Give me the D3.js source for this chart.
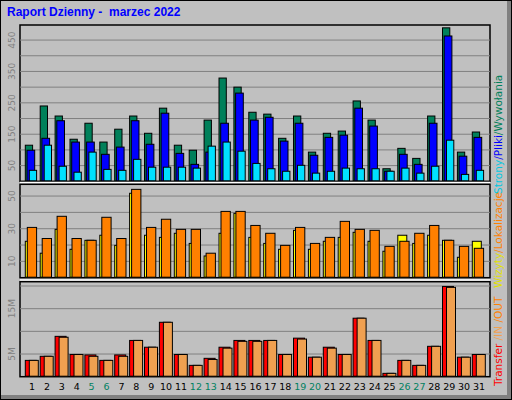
<!DOCTYPE html>
<html><head><meta charset="utf-8">
<script src="https://cdn.jsdelivr.net/npm/d3@7"></script>
<style>body{margin:0;background:#fff}svg{display:block}</style>
</head><body><svg id="c" width="512" height="400"></svg>
<script>
const days = d3.range(1, 32).map(String);
const weekend = ["5","6","12","13","19","20","26","27"];
const hits  = [115,240,208,134,185,125,166,208,153,233,115,99,195,329,300,220,214,137,208,93,153,160,256,195,40,105,73,208,489,93,157];
const files = [99,137,193,125,125,86,109,193,118,217,89,54,93,185,281,195,204,128,185,83,140,147,233,176,32,86,54,185,463,80,140];
const pages = [35,115,48,29,93,38,35,70,45,45,45,42,112,125,96,57,40,32,51,26,32,42,40,40,32,42,26,48,131,22,35];
const visits = [22.3,15,29.6,17.4,22.9,26,19.8,51.7,26,24.7,27.2,21,13.3,27.2,39.4,24.7,21,17.4,29,17.4,22.3,24.7,27.8,22.3,16.2,26,21,26,22.9,12.5,22.3];
const sites  = [30.8,24,37.6,24,22.9,37,24,54.1,30.8,35.8,29.6,29.6,15,40.6,40.6,32,27.2,19.8,30.8,21,24.7,34.5,29.6,29,19.2,22.3,27.2,32,22.9,19.2,18];
const kbTotal = [3.6,4.5,8.9,4.9,4.8,3.6,4.8,8.0,6.5,12.0,4.9,2.5,4.05,6.5,8.0,8.0,8.0,4.9,8.5,4.3,6.5,4.9,12.9,8.0,0.74,3.6,2.5,6.7,19.9,4.3,4.9];
const kbIn    = [3.6,4.5,8.7,4.9,4.5,3.6,4.5,8.0,6.5,12.0,4.9,2.5,3.8,6.3,7.8,7.8,8.0,4.9,8.3,4.3,6.3,4.9,12.9,8.0,0.74,3.6,2.5,6.7,19.7,4.3,4.9];
const topTicks = [50,150,250,350,450], topGrid = d3.range(50,500,50);
const midTicks = [10,30,50], midGrid = [10,20,30,40,50];
const botTicks = [5,15], botGrid = [5,10,15,20];

const svg = d3.select("#c");
svg.append("rect").attr("width",512).attr("height",400).attr("fill","#c0c0c0");
svg.append("rect").attr("x",0.5).attr("y",0.5).attr("width",511).attr("height",399).attr("fill","none").attr("stroke","#000");
svg.append("rect").attr("x",1).attr("y",395).attr("width",510).attr("height",4).attr("fill","#808080");
svg.append("rect").attr("x",507).attr("y",1).attr("width",4).attr("height",398).attr("fill","#808080");
svg.append("text").attr("x",7).attr("y",16).attr("fill","#0000ff").attr("font-family","Liberation Sans, Arial, sans-serif")
  .attr("font-weight","bold").attr("font-size",12).style("white-space","pre").text("Raport Dzienny -  marzec 2022");

const x = d3.scaleBand().domain(days).range([25.3, 25.3+31*14.9]).paddingInner(0).paddingOuter(0);
const L=20, R=490;
function panel(y0,y1,max,ticks,grid,fmt){
  const y = d3.scaleLinear().domain([0,max]).range([y1,y0]);
  svg.append("rect").attr("x",L).attr("y",y0).attr("width",R-L).attr("height",y1-y0).attr("fill","#c0c0c0")
    .attr("stroke","#000").attr("stroke-width",1.5);
  svg.append("g").selectAll("line").data(grid).join("line").attr("x1",L).attr("x2",R)
    .attr("y1",d=>y(d)).attr("y2",d=>y(d)).attr("stroke","#808080").attr("stroke-width",1);
  svg.append("g").selectAll("text").data(ticks).join("text")
    .attr("transform",d=>`translate(15,${y(d)}) rotate(-90)`).attr("text-anchor","middle")
    .attr("fill","#808080").attr("font-family","DejaVu Sans, sans-serif").attr("font-size",9).text(fmt);
  return y;
}
function bars(y,data,off,w,color){
  svg.append("g").selectAll("rect").data(data).join("rect")
    .attr("x",(d,i)=>x(days[i])+off).attr("width",w)
    .attr("y",d=>y(d)).attr("height",d=>y(0)-y(d)-0.5)
    .attr("fill",color).attr("stroke","#000").attr("stroke-width",1);
}
const yt = panel(25,181.3,498,topTicks,topGrid,d=>d);
bars(yt,hits,0,7.3,"#00805a");
bars(yt,files,1.7,7.7,"#0000ff");
bars(yt,pages,4,7.3,"#00e0ff");
svg.append("line").attr("x1",L).attr("x2",R).attr("y1",182.6).attr("y2",182.6).attr("stroke","#fff").attr("stroke-width",1.5);
const ym = panel(184.3,277.7,57.2,midTicks,midGrid,d=>d);
bars(ym,visits,0,9,"#ffff00");
bars(ym,sites,2,9.3,"#ff8000");
svg.append("line").attr("x1",L).attr("x2",R).attr("y1",280).attr("y2",280).attr("stroke","#fff").attr("stroke-width",1.5);
const yb = panel(281.7,376.7,20.95,botTicks,botGrid,d=>d+"M");
bars(yb,kbTotal,0,11,"#ff0000");
bars(yb,kbIn,4,9,"#f0a050");

svg.append("g").selectAll("text").data(days).join("text")
  .attr("x",d=>x(d)+6.7).attr("y",390).attr("text-anchor","middle")
  .attr("font-family","DejaVu Sans, sans-serif").attr("font-size",9.5)
  .attr("fill",d=>weekend.includes(d)?"#008060":"#000").text(d=>d);

function vtext(yStart,parts){
  const t = svg.append("text").attr("transform",`translate(502,${yStart}) rotate(-90)`)
    .attr("font-family","DejaVu Sans, sans-serif").attr("font-size",10.5).style("white-space","pre");
  parts.forEach(p=>t.append("tspan").attr("fill",p[1]).text(p[0]));
}
vtext(386,[["Transfer","#ff0000"],[" /IN","#f0a050"],[" /OUT","#ff8000"]]);
vtext(288,[["Wizyty","#e0e000"],["/Lokalizacje","#ff8000"]]);
vtext(194,[["Strony","#00c8e0"],["/Pliki","#0000ff"],["/Wywołania","#00805a"]]);
</script></body></html>
